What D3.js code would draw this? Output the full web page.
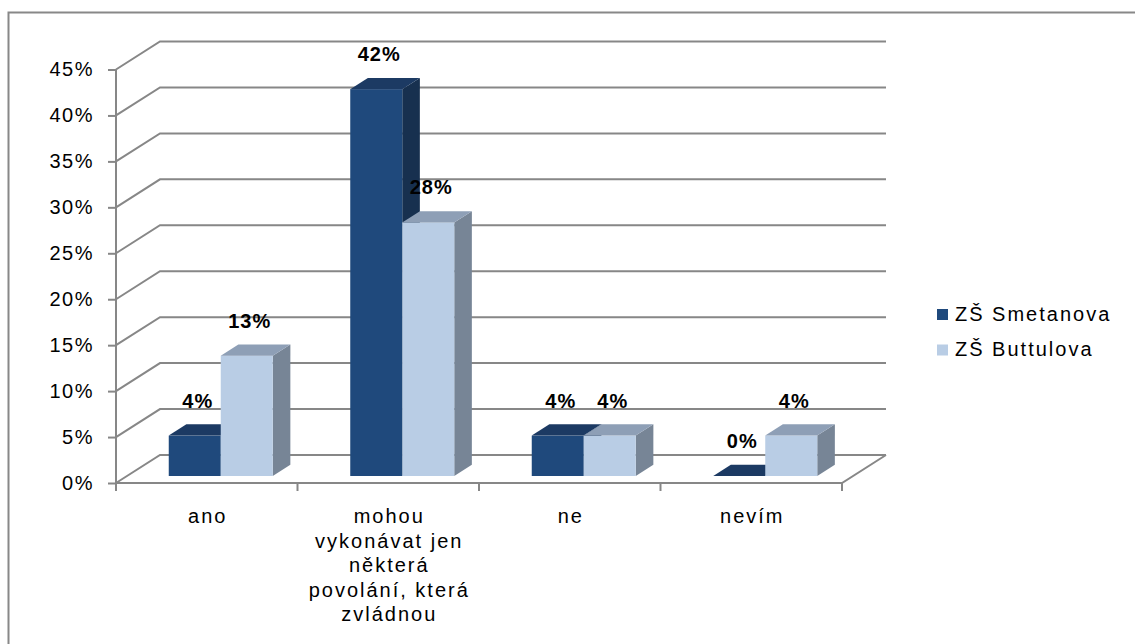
<!DOCTYPE html>
<html>
<head>
<meta charset="utf-8">
<script src="https://cdn.jsdelivr.net/npm/d3@7"></script>
<style>
  html, body { margin: 0; padding: 0; background: #fff; }
  svg { display: block; }
  text { font-family: "Liberation Sans", Arial, sans-serif; fill: #000; }
</style>
</head>
<body>
<svg id="chart" width="1135" height="644"></svg>
<script>
// ---- data ----
const categories = ["ano", "mohou vykonávat jen některá povolání, která zvládnou", "ne", "nevím"];
const categoryLabelLines = [
  ["ano"],
  ["mohou", "vykonávat jen", "některá", "povolání, která", "zvládnou"],
  ["ne"],
  ["nevím"]
];
const seriesNames = ["ZŠ Smetanova", "ZŠ Buttulova"];
const smetanova = [4.4, 42.1, 4.4, 0];
const buttulova = [13.1, 27.6, 4.4, 4.4];
const yTickValues = [0, 5, 10, 15, 20, 25, 30, 35, 40, 45];

// ---- styles ----
const colors = {
  front: ["#1f497c", "#b9cde5"],
  top:   ["#1c3a63", "#8e9fb6"],
  side:  ["#17304f", "#778596"]
};
const gridColor = "#878787";

const svg = d3.select("#chart");

// outer border
svg.append("rect")
  .attr("x", 8.5).attr("y", 12.5)
  .attr("width", 1140).attr("height", 650)
  .attr("fill", "none").attr("stroke", "#888").attr("stroke-width", 2);

// scales
const x0 = d3.scaleBand().domain(categories).range([116, 842]);
const y = d3.scaleLinear().domain([0, 45]).range([483, 69.5]);

// 3D depth of the floor
const depthDx = 44, depthDy = -28;
const fFront = 0.25, fBack = 0.65; // bar position within depth
const barFrontDx = depthDx * fFront, barFrontDy = depthDy * fFront;
const barDepthDx = depthDx * (fBack - fFront), barDepthDy = depthDy * (fBack - fFront);

const groupWidth = x0.bandwidth() * 0.573;
const x1 = d3.scaleBand().domain(seriesNames).range([0, groupWidth]);

const grid = svg.append("g");
// back wall gridlines and side wall diagonals
yTickValues.forEach(v => {
  const yy = y(v);
  grid.append("path")
    .attr("d", `M${116},${yy} L${116 + depthDx},${yy + depthDy} L${842 + depthDx},${yy + depthDy}`)
    .attr("fill", "none").attr("stroke", gridColor).attr("stroke-width", 2);
});
// floor front edge and right edge
grid.append("path")
  .attr("d", `M116,${y(0)} L842,${y(0)} L${842 + depthDx},${y(0) + depthDy}`)
  .attr("fill", "none").attr("stroke", gridColor).attr("stroke-width", 2);

// y axis
const yAxis = d3.axisLeft(y).tickValues(yTickValues).tickSize(8).tickPadding(14)
  .tickFormat(d => d + "%");
const yg = svg.append("g").attr("transform", "translate(116,0)").call(yAxis);
yg.select(".domain").attr("stroke", gridColor).attr("stroke-width", 2)
  .attr("d", `M0,${y(45)}V${y(0) + 6}`);
yg.selectAll(".tick line").attr("stroke", gridColor).attr("stroke-width", 2);
yg.selectAll(".tick text")
  .style("font-family", '"Liberation Sans", Arial, sans-serif')
  .style("font-size", "20px").style("letter-spacing", "1.5px")
  .attr("fill", "#000");

// x axis ticks (category boundaries)
const bounds = categories.map(c => x0(c)).concat([842]);
svg.append("g").selectAll("line").data(bounds).join("line")
  .attr("x1", d => d).attr("x2", d => d)
  .attr("y1", y(0)).attr("y2", y(0) + 8)
  .attr("stroke", gridColor).attr("stroke-width", 2);

// category labels
const catG = svg.append("g");
categories.forEach((c, i) => {
  const cx = x0(c) + x0.bandwidth() / 2;
  const t = catG.append("text")
    .attr("x", cx).attr("y", 523)
    .attr("text-anchor", "middle")
    .style("font-size", "20px").style("letter-spacing", "2px");
  categoryLabelLines[i].forEach((ln, j) => {
    t.append("tspan").attr("x", cx + 1).attr("dy", j === 0 ? 0 : 24.5).text(ln);
  });
});

// bars
const seriesData = [smetanova, buttulova];
const fmt = d3.format(".0%");
const barsG = svg.append("g");
const labelsG = svg.append("g");
categories.forEach((c, i) => {
  const gx = x0(c) + x0.bandwidth() / 2 - groupWidth / 2 + 3 + barFrontDx;
  seriesNames.forEach((s, k) => {
    const v = seriesData[k][i];
    const xl = gx + x1(s);
    const xr = xl + x1.bandwidth();
    const yb = y(0) + barFrontDy;
    const yt = y(v) + barFrontDy;
    // side
    barsG.append("path")
      .attr("d", `M${xr},${yt} L${xr + barDepthDx},${yt + barDepthDy} L${xr + barDepthDx},${yb + barDepthDy} L${xr},${yb} Z`)
      .attr("fill", colors.side[k]);
    // front
    barsG.append("rect")
      .attr("x", xl).attr("y", yt)
      .attr("width", x1.bandwidth()).attr("height", Math.max(0, yb - yt))
      .attr("fill", colors.front[k]);
    // top
    barsG.append("path")
      .attr("d", `M${xl},${yt} L${xl + barDepthDx},${yt + barDepthDy} L${xr + barDepthDx},${yt + barDepthDy} L${xr},${yt} Z`)
      .attr("fill", colors.top[k]);
    // label
    labelsG.append("text")
      .attr("x", (xl + xr) / 2 + 3)
      .attr("y", yt - 28)
      .attr("text-anchor", "middle")
      .style("font-size", "20px").style("font-weight", "bold").style("letter-spacing", "1px")
      .text(fmt(v / 100));
  });
});

// legend
const legend = svg.append("g");
seriesNames.forEach((s, k) => {
  const ly = 309 + k * 35.5;
  legend.append("rect").attr("x", 937).attr("y", ly).attr("width", 11).attr("height", 11)
    .attr("fill", colors.front[k]);
  legend.append("text").attr("x", 955).attr("y", ly + 11.5)
    .style("font-size", "20px").style("letter-spacing", "2px")
    .text(s);
});
</script>
</body>
</html>
